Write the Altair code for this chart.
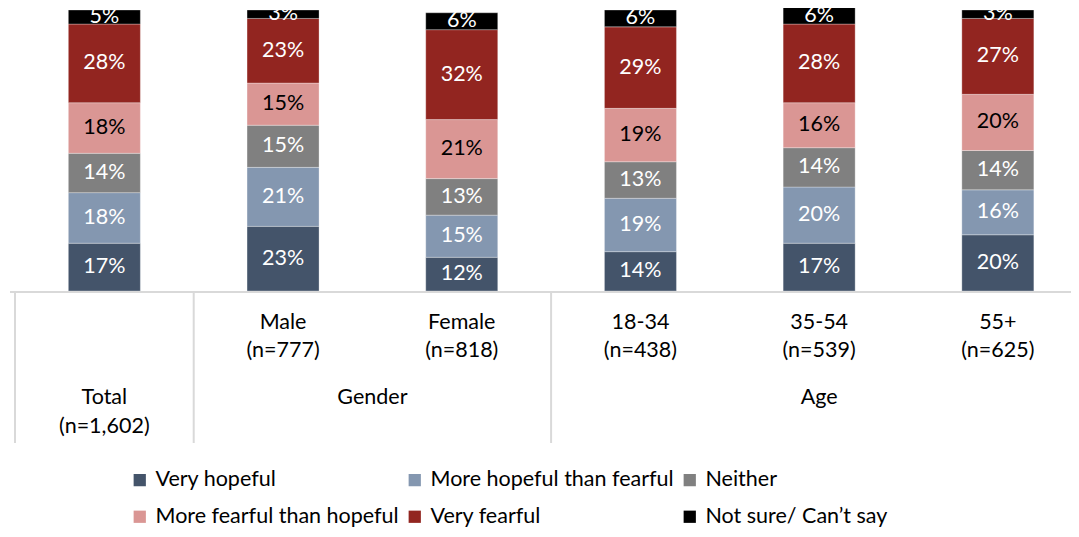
import altair as alt
import pandas as pd

categories = ["Total", "Male", "Female", "18-34", "35-54", "55+"]
n_labels = ["(n=1,602)", "(n=777)", "(n=818)", "(n=438)", "(n=539)", "(n=625)"]
series = ["Very hopeful", "More hopeful than fearful", "Neither",
          "More fearful than hopeful", "Very fearful", "Not sure/ Can\u2019t say"]
very_hopeful = [17, 23, 12, 14, 17, 20]
more_hopeful = [18, 21, 15, 19, 20, 16]
neither = [14, 15, 13, 13, 14, 14]
more_fearful = [18, 15, 21, 19, 16, 20]
very_fearful = [28, 23, 32, 29, 28, 27]
not_sure = [5, 3, 6, 6, 6, 3]
groups = ["Gender", "Age"]
group_members = [["Male", "Female"], ["18-34", "35-54", "55+"]]

colors = ["#44546A", "#8497B0", "#808080", "#DA9694", "#922520", "#000000"]
label_colors = ["white", "white", "white", "black", "white", "white"]

values = [very_hopeful, more_hopeful, neither, more_fearful, very_fearful, not_sure]
rows = []
for ci, cat in enumerate(categories):
    cum = 0
    for si, s in enumerate(series):
        v = values[si][ci]
        rows.append({"cat": cat, "idx": ci, "series": s, "order": si, "value": v,
                     "lo": cum, "hi": cum + v, "mid": cum + v / 2,
                     "label": f"{v}%", "tcolor": label_colors[si]})
        cum += v
df = pd.DataFrame(rows)

cat_df = pd.DataFrame({"cat": categories, "idx": list(range(len(categories))), "n": n_labels})
grp_df = pd.DataFrame({"group": groups,
                       "idx": [sum(categories.index(m) for m in mem) / len(mem) for mem in group_members]})
sep_df = pd.DataFrame({"pos": [-0.5, 0.5, 2.5]})

FONT = "Lato"
FS = 21.5
W, H = 1061, 433
x_scale = alt.Scale(domain=[-0.5, -0.5 + W / 180.4], nice=False, zero=False)
y_scale = alt.Scale(domain=[-54.09, 100], nice=False, zero=False)

bars = alt.Chart(df).mark_bar(size=72, stroke="#ffffff", strokeWidth=0.6, strokeOpacity=0.5).encode(
    x=alt.X("idx:Q", scale=x_scale, axis=None),
    y=alt.Y("lo:Q", scale=y_scale, axis=None),
    y2="hi:Q",
    color=alt.Color("series:N", scale=alt.Scale(domain=series, range=colors),
                    legend=alt.Legend(title=None, orient="none", legendX=119, legendY=459,
                                      direction="horizontal",
                                      columns=3, columnPadding=5, rowPadding=14,
                                      symbolType="square", symbolSize=150, symbolStrokeWidth=0,
                                      labelFontSize=FS, labelFont=FONT, labelColor="#000000",
                                      labelOffset=5, labelLimit=400)),
)

labels = alt.Chart(df).mark_text(fontSize=FS, font=FONT, baseline="middle").encode(
    x="idx:Q", y="mid:Q",
    text="label:N",
    color=alt.Color("tcolor:N", scale=None),
)

hline = alt.Chart(cat_df.head(1)).mark_rule(color="#D9D9D9", strokeWidth=2).encode(
    x=alt.value(0), x2=alt.value(W), y=alt.value(282)
)
vlines = alt.Chart(sep_df).mark_rule(color="#D9D9D9", strokeWidth=2).encode(
    x=alt.X("pos:Q"), y=alt.value(282), y2=alt.value(433)
)

sub = cat_df[cat_df["cat"] != "Total"]
tot = cat_df[cat_df["cat"] == "Total"]
txt = dict(fontSize=FS, font=FONT, baseline="middle", color="#000000")
cat_text = alt.Chart(sub).mark_text(**txt).encode(x="idx:Q", y=alt.value(313), text="cat:N")
n_text = alt.Chart(sub).mark_text(**txt).encode(x="idx:Q", y=alt.value(341), text="n:N")
tot_text = alt.Chart(tot).mark_text(**txt).encode(x="idx:Q", y=alt.value(388), text="cat:N")
tot_n = alt.Chart(tot).mark_text(**txt).encode(x="idx:Q", y=alt.value(417), text="n:N")
grp_text = alt.Chart(grp_df).mark_text(**txt).encode(x="idx:Q", y=alt.value(388), text="group:N")

chart = alt.layer(bars, labels, hline, vlines, cat_text, n_text, tot_text, tot_n, grp_text).properties(
    width=W, height=H,
    autosize=alt.AutoSizeParams(type="none"),
    padding={"left": 2, "top": 2, "right": 0, "bottom": 86},
).configure_view(stroke=None)

chart.save("out.html", embed_options={"renderer": "svg", "actions": False})
